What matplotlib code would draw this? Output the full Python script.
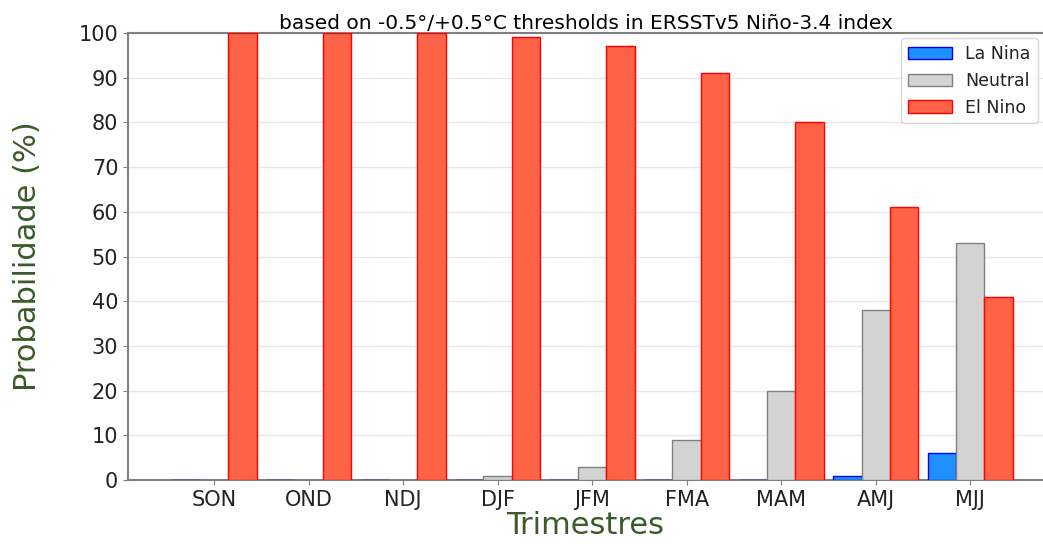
import matplotlib
matplotlib.use("Agg")
import matplotlib.pyplot as plt
import numpy as np

trimestres = ["SON", "OND", "NDJ", "DJF", "JFM", "FMA", "MAM", "AMJ", "MJJ"]
la_nina = [0, 0, 0, 0, 0, 0, 0, 1, 6]
neutral = [0, 0, 0, 1, 3, 9, 20, 38, 53]
el_nino = [100, 100, 100, 99, 97, 91, 80, 61, 41]

verde = "#3a5a28"

fig = plt.figure(figsize=(10.43, 5.44), dpi=100)
ax = fig.add_axes([0.1227, 0.1176, 0.8773, 0.8217])

x = np.arange(len(trimestres))
w = 0.3
ax.bar(x - w, la_nina, w, color="#1e90ff", edgecolor="blue", linewidth=1.0, label="La Nina", zorder=3)
ax.bar(x, neutral, w, color="lightgray", edgecolor="gray", linewidth=1.0, label="Neutral", zorder=3)
ax.bar(x + w, el_nino, w, color="tomato", edgecolor="red", linewidth=1.0, label="El Nino", zorder=3)

ax.set_xlim(-0.91, 8.77)
ax.set_ylim(0, 100)
ax.set_yticks(range(0, 101, 10))
ax.set_xticks(x)
ax.set_xticklabels(trimestres)
ax.tick_params(axis="both", labelsize=15, colors="#222222")
ax.tick_params(axis="both", color="gray")
ax.yaxis.grid(True, color="#e8e8e8", linewidth=1, zorder=0)
for s in ax.spines.values():
    s.set_color("gray")
    s.set_linewidth(1.5)
ax.spines["right"].set_visible(False)

ax.set_title("based on -0.5°/+0.5°C thresholds in ERSSTv5 Niño-3.4 index",
             fontsize=14.5, pad=3)
ax.set_ylabel("Probabilidade (%)", fontsize=22, color=verde, labelpad=26)
ax.set_xlabel("Trimestres", fontsize=22, color=verde, labelpad=1)

ax.legend(loc="upper right", fontsize=12.5, handlelength=2.5, borderaxespad=0.3,
          labelcolor="#222222")

fig.savefig("out.png", dpi=100)
